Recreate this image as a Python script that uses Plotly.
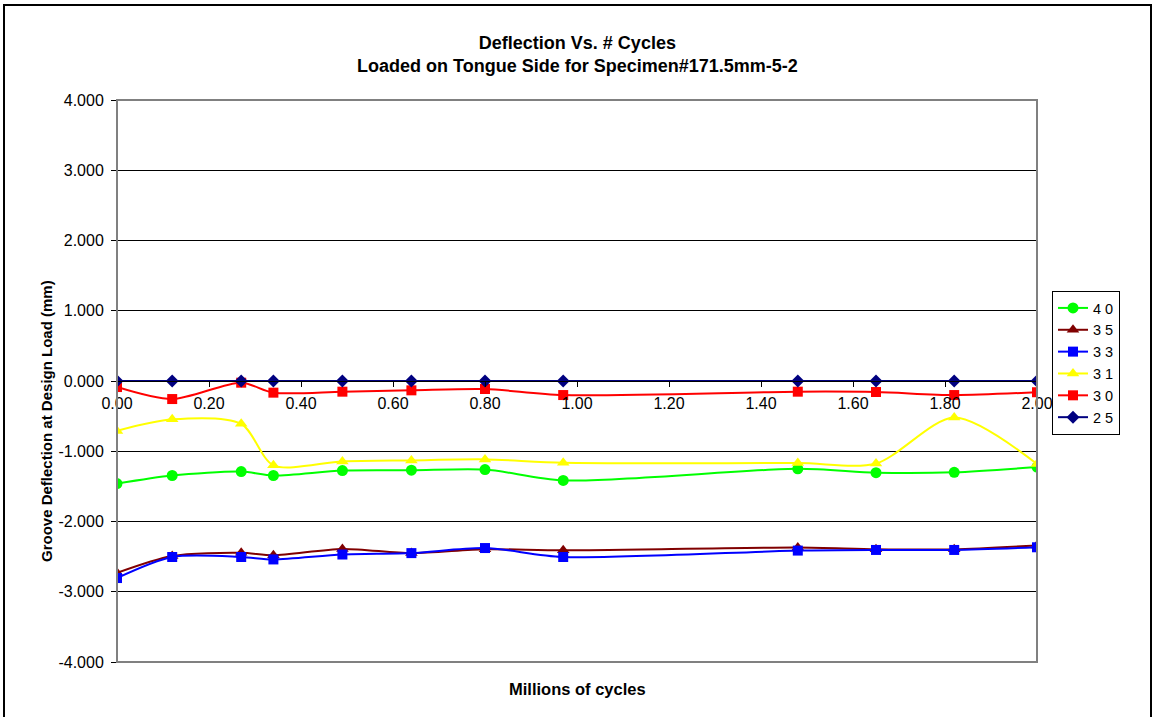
import plotly.graph_objects as go

# ---------------- data ----------------
cycles = [0.00, 0.12, 0.27, 0.34, 0.49, 0.64, 0.80, 0.97, 1.48, 1.65, 1.82, 2.00]

series_names = ["4 0", "3 5", "3 3", "3 1", "3 0", "2 5"]
s40 = [-1.46, -1.345, -1.29, -1.345, -1.275, -1.27, -1.26, -1.415, -1.25, -1.305, -1.30, -1.225]
s35 = [-2.73, -2.49, -2.445, -2.48, -2.39, -2.45, -2.395, -2.41, -2.37, -2.395, -2.395, -2.34]
s33 = [-2.805, -2.505, -2.505, -2.54, -2.47, -2.45, -2.378, -2.505, -2.414, -2.405, -2.405, -2.367]
s31 = [-0.71, -0.546, -0.61, -1.20, -1.145, -1.13, -1.116, -1.164, -1.168, -1.175, -0.52, -1.18]
s30 = [-0.086, -0.257, -0.024, -0.166, -0.152, -0.133, -0.114, -0.20, -0.152, -0.157, -0.20, -0.16]
s25 = [0.0, 0.0, 0.0, 0.0, 0.0, 0.0, 0.0, 0.0, 0.0, 0.0, 0.0, 0.0]

y_tick_vals = [-4, -3, -2, -1, 0, 1, 2, 3, 4]
y_tick_labels = ["-4.000", "-3.000", "-2.000", "-1.000", "0.000", "1.000", "2.000", "3.000", "4.000"]
x_tick_vals = [0.0, 0.2, 0.4, 0.6, 0.8, 1.0, 1.2, 1.4, 1.6, 1.8, 2.0]
x_tick_labels = ["0.00", "0.20", "0.40", "0.60", "0.80", "1.00", "1.20", "1.40", "1.60", "1.80", "2.00"]

title_lines = ["Deflection Vs. # Cycles", "Loaded on Tongue Side for Specimen#171.5mm-5-2"]
x_title = "Millions of cycles"
y_title = "Groove Deflection at Design Load (mm)"

# ---------------- styles ----------------
FONT = "Liberation Sans, Arial, sans-serif"
styles = [
    dict(color="#00FF00", symbol="circle", size=11),
    dict(color="#800000", symbol="triangle-up", size=11),
    dict(color="#0000FF", symbol="square", size=10),
    dict(color="#FFFF00", symbol="triangle-up", size=11),
    dict(color="#FF0000", symbol="square", size=10),
    dict(color="#000080", symbol="diamond", size=10),
]
all_series = [s40, s35, s33, s31, s30, s25]

fig = go.Figure()
for name, vals, st in zip(series_names, all_series, styles):
    fig.add_trace(go.Scatter(
        x=cycles, y=vals, name=name, mode="lines+markers",
        line=dict(color=st["color"], width=2, shape="spline", smoothing=0.8),
        marker=dict(color=st["color"], symbol=st["symbol"], size=st["size"],
                    line=dict(width=0)),
    ))

# target plot area on screen: x 117..1037, y 100..662 (page margin removed below)
W, H = 1154, 717
L, T = 117, 100
pw, ph = 920, 562
R = W - L - pw
B = H - T - ph

def px_x(p):
    return (p - L) / pw

def px_y(p):
    return (T + ph - p) / ph

fig.update_layout(
    width=W, height=H,
    margin=dict(l=L, r=R, t=T, b=B),
    paper_bgcolor="white", plot_bgcolor="white",
    font=dict(family=FONT, size=14, color="black"),
    showlegend=True,
    legend=dict(
        x=px_x(1052), y=px_y(291), xanchor="left", yanchor="top",
        bordercolor="black", borderwidth=1, bgcolor="white",
        font=dict(family=FONT, size=14.5, color="black"),
        itemwidth=30, tracegroupgap=0,
    ),
    xaxis=dict(
        range=[0, 2], tickvals=x_tick_vals, ticktext=x_tick_labels,
        anchor="free", position=0.5,
        showline=True, linecolor="black", linewidth=1,
        ticks="outside", ticklen=5, tickcolor="black",
        ticklabelstandoff=3,
        showgrid=False, zeroline=False,
        tickfont=dict(family=FONT, size=16, color="black"),
    ),
    yaxis=dict(
        range=[-4, 4], tickvals=y_tick_vals, ticktext=y_tick_labels,
        showline=True, linecolor="black", linewidth=1,
        ticks="outside", ticklen=5, tickcolor="black",
        ticklabelstandoff=4,
        showgrid=True, gridcolor="black", gridwidth=1, zeroline=False,
        tickfont=dict(family=FONT, size=16, color="black"),
    ),
    shapes=[
        # plot area border (gray)
        dict(type="rect", xref="paper", yref="paper", x0=0, x1=1, y0=0, y1=1,
             line=dict(color="#808080", width=2), layer="above"),
        # outer chart frame
        dict(type="rect", xref="paper", yref="paper",
             x0=px_x(4), x1=px_x(1151), y0=px_y(730), y1=px_y(5),
             line=dict(color="black", width=2), layer="above"),
    ],
    annotations=[
        dict(text="<b>" + title_lines[0] + "</b><br><b>" + title_lines[1] + "</b>",
             xref="paper", yref="paper", x=0.5, y=px_y(55),
             xanchor="center", yanchor="middle", showarrow=False,
             font=dict(family=FONT, size=18, color="black")),
        dict(text="<b>" + x_title + "</b>", xref="paper", yref="paper",
             x=0.5, y=px_y(689), xanchor="center", yanchor="middle", showarrow=False,
             font=dict(family=FONT, size=16.5, color="black")),
        dict(text="<b>" + y_title + "</b>", xref="paper", yref="paper",
             x=px_x(46), y=px_y(421), xanchor="center", yanchor="middle", showarrow=False,
             textangle=-90, font=dict(family=FONT, size=15, color="black")),
    ],
)

fig.write_html(
    "out.html",
    config={"displayModeBar": False},
    post_script="document.body.style.margin='0px';document.body.style.overflow='hidden';",
)
